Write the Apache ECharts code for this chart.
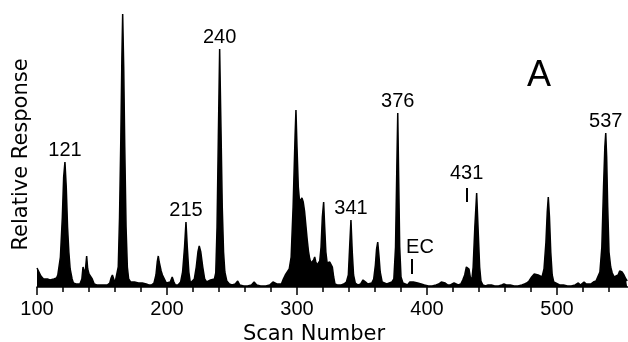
<!DOCTYPE html>
<html>
<head>
<meta charset="utf-8">
<script src="https://cdn.jsdelivr.net/npm/echarts@6/dist/echarts.min.js"></script>
<style>
  html, body { margin: 0; padding: 0; background: #fff; }
  #chart { width: 628px; height: 342px; }
</style>
</head>
<body>
<div id="chart"></div>
<script>
// scan number / relative response
const scans = [
  100, 101, 103, 105, 108, 110, 113, 115, 116, 118, 119.5, 120.5, 121.5, 122.5, 123.5, 124.5, 125.5, 127, 128, 130,
  133, 134.5, 135.4, 136.5, 137.3, 138.2, 139, 140, 141.5, 142.5, 144, 146, 150, 154, 156, 157, 158, 159, 160, 161.5,
  162.5, 163.5, 164.5, 165.3, 165.9, 166.7, 167.5, 168.5, 169.5, 170.5, 172, 175, 178, 181, 184, 186, 188, 190, 191.5, 192.5,
  193.3, 194, 195.5, 196.5, 198, 199.5, 201, 202.5, 204, 205.3, 206.5, 208.5, 210.5, 212, 213.5, 214.6, 215.6, 216.8, 218, 219.5,
  221, 222.5, 223.8, 224.8, 226, 227.5, 229, 230.5, 232, 233.5, 235, 236.5, 237.5, 238.5, 239.5, 240.5, 241.5, 242.5, 243.5, 244.5,
  246, 248, 250, 252.5, 254.4, 256, 259, 262, 265, 267, 269, 272, 276, 279, 281.5, 283, 284.5, 286, 288, 289.5,
  291, 292.5, 294, 295.5, 297, 298.5, 299.2, 300, 301, 302, 303, 303.8, 304.8, 305.8, 306.8, 307.8, 308.8, 309.8, 310.8, 311.8,
  312.8, 313.6, 314.5, 315.5, 316.5, 317.5, 318.5, 319.5, 320.5, 321.3, 322.2, 323.2, 324.2, 325.2, 326.2, 327.2, 328.2, 329.2, 331, 334,
  336, 338, 339.5, 340.5, 341.5, 342.5, 343.5, 344.8, 347, 349, 350.8, 351.8, 352.8, 354.5, 356, 357.5, 359, 360.3, 361.2, 362.1,
  363, 364, 365.5, 367, 369, 371, 373, 374.5, 375.8, 376.8, 377.5, 378.2, 379, 380, 381.5, 383, 385, 386.8, 388.2, 389.5,
  391, 392.8, 394.1, 395.5, 398, 401, 404, 407, 409, 411, 412.5, 414, 416, 418, 419.5, 420.8, 422, 424, 426, 427.5,
  429, 430.3, 431.3, 432.3, 433.3, 434.5, 435.5, 436.8, 438.2, 439.4, 440.5, 441.5, 443, 445, 447, 448, 449.5, 452, 455, 457.5,
  459.2, 461, 464, 467, 470, 473, 475, 476.7, 478.5, 480.5, 482.5, 483.8, 485.5, 487, 488.5, 490, 491.5, 492.5, 493.3, 494.2,
  495.2, 496.3, 497.5, 499, 502, 505, 508, 511, 514, 516.4, 518, 519.5, 520.8, 522.5, 524, 526, 528, 530, 531.5, 533,
  534.5, 535.8, 536.8, 537.5, 538.2, 539, 540, 541.3, 542.5, 544, 545.5, 547, 548.2, 549, 550, 551.5, 553, 554
];
const response = [
  19, 17, 11, 8, 8, 7, 8, 9, 12, 30, 70, 110, 125, 100, 60, 35, 18, 8, 4, 3,
  3, 8, 20, 14, 18, 31, 18, 13, 12, 8, 3, 2, 2, 2, 4, 9, 12, 8, 4, 6,
  20, 70, 150, 230, 273, 220, 140, 60, 20, 8, 5, 5, 4, 4, 3, 2, 2, 4, 12, 25,
  31, 25, 16, 12, 8, 4, 3, 5, 10, 5, 2, 2, 5, 15, 40, 65, 40, 15, 4, 3,
  8, 20, 35, 41, 35, 20, 8, 5, 6, 7, 7, 8, 14, 60, 150, 238, 160, 80, 35, 15,
  6, 3, 2, 3, 6, 2, 1, 1, 2, 5, 2, 1, 1, 2, 5, 7, 3, 2, 3, 8,
  12, 14, 18, 30, 80, 150, 177, 140, 100, 85, 86, 89, 85, 76, 62, 48, 36, 28, 24, 24,
  27, 30, 25, 22, 22, 26, 40, 70, 85, 60, 35, 24, 22, 25, 27, 20, 10, 3, 2, 2,
  3, 5, 12, 40, 67, 35, 12, 4, 2, 3, 7, 9, 5, 3, 3, 4, 8, 22, 38, 45,
  32, 15, 5, 3, 3, 4, 5, 8, 40, 120, 174, 110, 40, 10, 4, 2, 2, 5, 7, 5,
  3, 4, 4, 3, 2, 1, 1, 2, 3, 5, 6, 4, 2, 2, 3, 4, 3, 2, 3, 7,
  12, 20, 22, 18, 10, 7, 20, 60, 94, 55, 20, 6, 2, 1, 2, 3, 2, 1, 1, 2,
  3, 2, 2, 1, 1, 2, 3, 4, 6, 10, 13, 14, 12, 10, 10, 18, 45, 75, 90, 70,
  35, 12, 5, 3, 2, 2, 1, 1, 2, 4, 2, 3, 5, 3, 2, 3, 5, 6, 8, 15,
  40, 100, 140, 154, 130, 80, 35, 20, 14, 10, 8, 12, 16, 17, 15, 12, 8, 6
];

// peak annotations
const peakNames = ['121', '215', '240', '341', '376', '537'];
const peakScans = [121.5, 214.6, 240.5, 341.5, 377.5, 537.5];
// marked compounds with a pointer tick: name, scan, tick from/to, label foot
const markNames = ['431', 'EC'];
const markScans = [430.5, 388.5];
const markTickLow = [85, 13];
const markTickHigh = [99, 28];
const markLabelScans = [430.5, 394.6];
const markLabelFoot = [102, 28];

const xTicks = [100, 200, 300, 400, 500];

const series = scans.map((s, i) => [s, response[i]]);
const heightAt = s => response[scans.indexOf(s)];

const myChart = echarts.init(document.getElementById('chart'), null, { renderer: 'canvas' });

const option = {
  animation: false,
  backgroundColor: '#fff',
  title: {
    text: 'A',
    left: 522,
    top: 53,
    textStyle: { fontFamily: 'Liberation Sans, Arial, sans-serif', fontSize: 36, fontWeight: 'normal', color: '#000' }
  },
  grid: { left: 37, top: 7, bottom: 55, width: 650, outerBoundsMode: 'none', containLabel: false },
  xAxis: {
    type: 'value',
    min: xTicks[0],
    max: 600,
    interval: 100,
    name: 'Scan Number',
    nameLocation: 'middle',
    nameGap: 30,
    nameTextStyle: {
      fontFamily: 'DejaVu Sans, sans-serif',
      fontSize: 21,
      color: '#000',
      padding: [0, 96, 0, 0]
    },
    axisLine: { lineStyle: { color: '#000', width: 1.5 } },
    axisTick: { length: 8, lineStyle: { color: '#000', width: 1.5 } },
    minorTick: { show: true, splitNumber: 5, length: 5, lineStyle: { color: '#000', width: 1.5 } },
    axisLabel: {
      margin: 12,
      color: '#000',
      fontFamily: 'Liberation Sans, Arial, sans-serif',
      fontSize: 20,
      formatter: v => (xTicks.indexOf(v) >= 0 ? String(v) : '')
    },
    splitLine: { show: false }
  },
  yAxis: {
    type: 'value',
    min: 0,
    max: 280,
    name: 'Relative Response',
    nameLocation: 'middle',
    nameGap: 5,
    nameRotate: 90,
    nameTextStyle: {
      fontFamily: 'DejaVu Sans, sans-serif',
      fontSize: 21,
      color: '#000',
      padding: [0, 15, 0, 0]
    },
    axisLine: { show: false },
    axisTick: { show: false },
    axisLabel: { show: false },
    splitLine: { show: false }
  },
  series: [
    {
      type: 'line',
      data: series,
      showSymbol: false,
      smooth: false,
      clip: false,
      lineStyle: { color: '#000', width: 1.5 },
      areaStyle: { color: '#000', opacity: 1 },
      markPoint: {
        symbol: 'circle',
        symbolSize: 0,
        label: {
          show: true,
          position: 'top',
          distance: 2,
          color: '#000',
          fontFamily: 'Liberation Sans, Arial, sans-serif',
          fontSize: 20
        },
        data: peakNames.map((n, i) => ({
          coord: [peakScans[i], heightAt(peakScans[i])],
          value: n,
          label: { formatter: n }
        })).concat(markNames.map((n, i) => ({
          coord: [markLabelScans[i], markLabelFoot[i]],
          value: n,
          label: { formatter: n }
        })))
      },
      markLine: {
        silent: true,
        symbol: 'none',
        label: { show: false },
        lineStyle: { color: '#000', width: 2, type: 'solid' },
        data: markNames.map((n, i) => [
          { coord: [markScans[i], markTickLow[i]] },
          { coord: [markScans[i], markTickHigh[i]] }
        ])
      }
    }
  ]
};

myChart.setOption(option, true);
window.addEventListener('resize', function () {
  myChart.resize();
});
</script>
</body>
</html>
